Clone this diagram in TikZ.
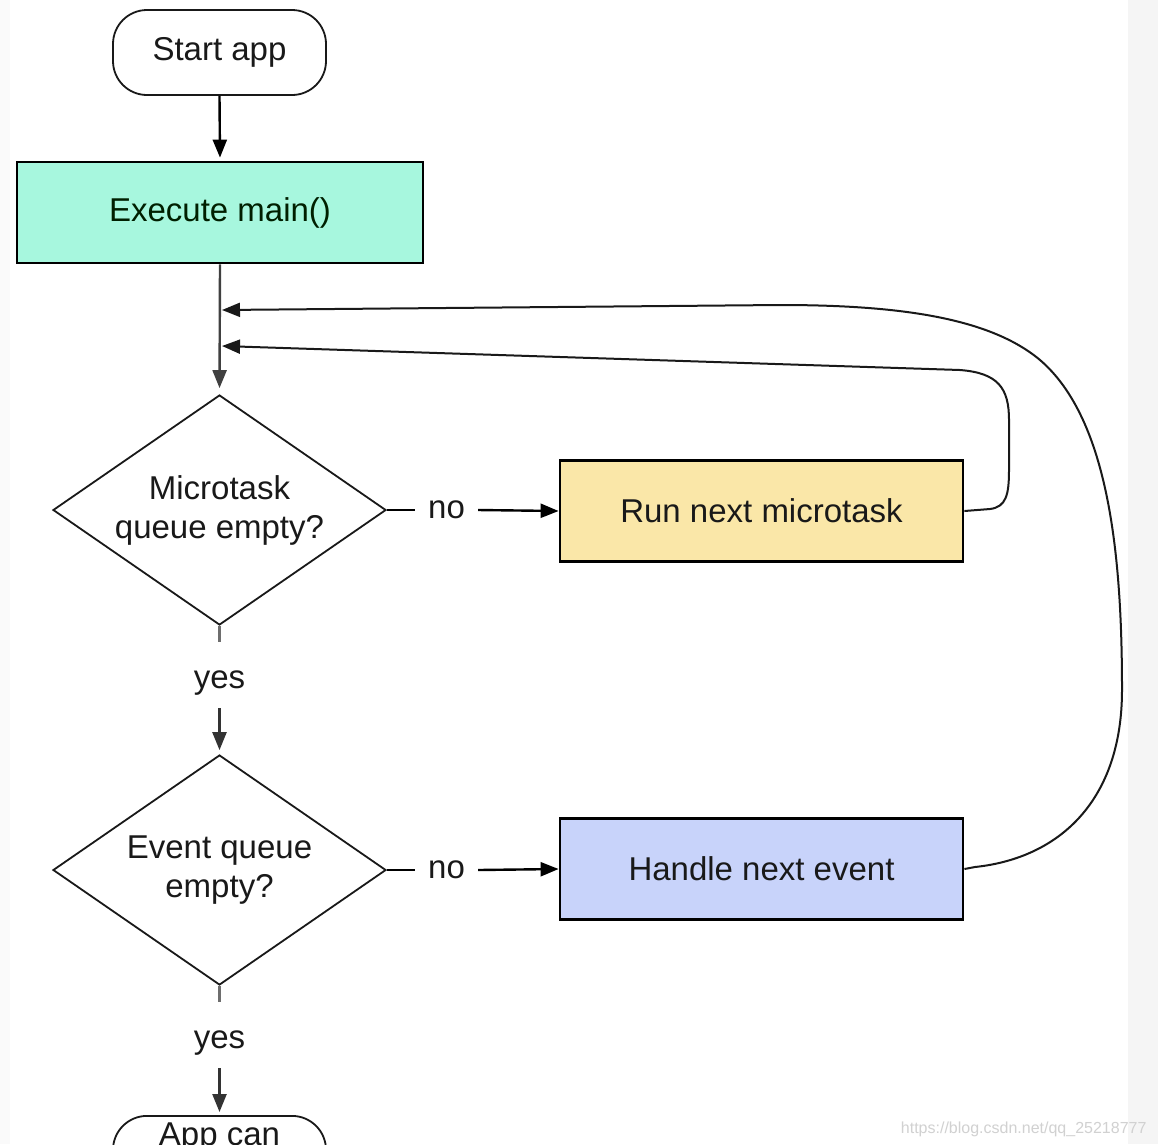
\documentclass[tikz,border=0pt]{standalone}
\usepackage{fontspec}
\setmainfont{Liberation Sans}
\usetikzlibrary{shapes.geometric,arrows.meta}
\definecolor{mint}{RGB}{167,247,222}
\definecolor{sand}{RGB}{250,231,168}
\definecolor{lav}{RGB}{200,211,250}
\definecolor{ink}{RGB}{25,25,25}
\definecolor{stub}{RGB}{110,110,110}
\begin{document}
\begin{tikzpicture}[x=1pt,y=-1pt,
  txt/.style={font=\fontsize{33}{39}\selectfont, text=ink},
  terminal/.style={txt, draw=ink, line width=1.8pt, rounded corners=34pt,
    minimum width=213pt, minimum height=85pt, inner sep=0pt},
  procbox/.style={txt, draw=black, line width=2.8pt, inner sep=0pt,
    minimum width=403pt, minimum height=101pt},
  decision/.style={txt, diamond, aspect=1.45, draw=ink, line width=1.8pt, inner sep=0pt,
    minimum width=333pt, minimum height=230pt, align=center},
  lbl/.style={txt, inner ysep=0pt, inner xsep=13pt, text height=17pt, text depth=0pt},
  yeslbl/.style={txt, inner sep=0pt, text height=46pt, text depth=20pt, anchor=base},
  conn/.style={draw=black, line width=2.4pt},
  arr/.style={conn, -{Triangle[length=18pt,width=14pt]}},
  loop/.style={draw=ink, line width=2pt, -{Triangle[length=18pt,width=14pt]}}
]
\useasboundingbox (0,0) rectangle (1158,1144);
\clip (0,0) rectangle (1158,1144);
\fill[white] (0,0) rectangle (1158,1144);
\fill[black!4] (1128,0) rectangle (1158,1144);
\fill[black!2] (0,0) rectangle (10,1144);

% nodes
\node[terminal] (start) at (219.5,52.5) {Start app};
\node[procbox, fill=mint, minimum width=406pt, text=black!80!green!60!black] (main) at (220,212.5) {Execute main()};
\node[decision] (d1) at (219.5,510) {Microtask\\queue empty?};
\node[lbl] (no1) at (446.5,510) {no};
\node[procbox, fill=sand] (mt) at (761.5,511) {Run next microtask};
\node[yeslbl] (yes1) at (219.5,688) {yes};
\node[decision] (d2) at (219.5,870) {Event queue\\empty?};
\node[lbl] (no2) at (446.5,870) {no};
\node[procbox, fill=lav] (ev) at (761.5,869) {Handle next event};
\node[yeslbl] (yes2) at (219.5,1048) {yes};
\node[terminal, anchor=north, minimum height=90pt, inner ysep=6pt, text height=24pt, text depth=54pt] (endapp) at (219.5,1115) {App can};
\node[anchor=base east, font=\fontsize{16}{18}\selectfont, text=black!18] (wm) at (1150,1133) {https://blog.csdn.net/qq\_25218777};

\coordinate (tipA) at (222,346);
\coordinate (tipB) at (222,310);

% connectors
\draw[arr, shorten >=3pt] (start.south) -- (main.north);
\draw[arr, draw=black!75, shorten >=6pt] (main.south) -- (d1.north);
\draw[conn] (d1.east) -- (no1.west);
\draw[arr] (no1.east) -- (mt.west);
\draw[conn, draw=stub] (d1.south) -- (yes1.north);
\draw[arr, draw=black!80, shorten >=4pt] (yes1.south) -- (d2.north);
\draw[conn] (d2.east) -- (no2.west);
\draw[arr] (no2.east) -- (ev.west);
\draw[conn, draw=stub] (d2.south) -- (yes2.north);
\draw[arr, draw=black!80, shorten >=3pt] (yes2.south) -- (endapp.north);

% feedback loops
\draw[loop] (mt.east) -- (990,509)
  .. controls (1006,507) and (1009,495) .. (1009,470) -- (1009,420)
  .. controls (1009,388) and (998,373) .. (960,370) -- (tipA);
\draw[loop] (ev.east) -- (975,867)
  .. controls (1060,858) and (1122,800) .. (1122,690)
  .. controls (1122,560) and (1110,420) .. (1040,360)
  .. controls (990,318) and (900,305) .. (780,305) -- (tipB);
\end{tikzpicture}
\end{document}
